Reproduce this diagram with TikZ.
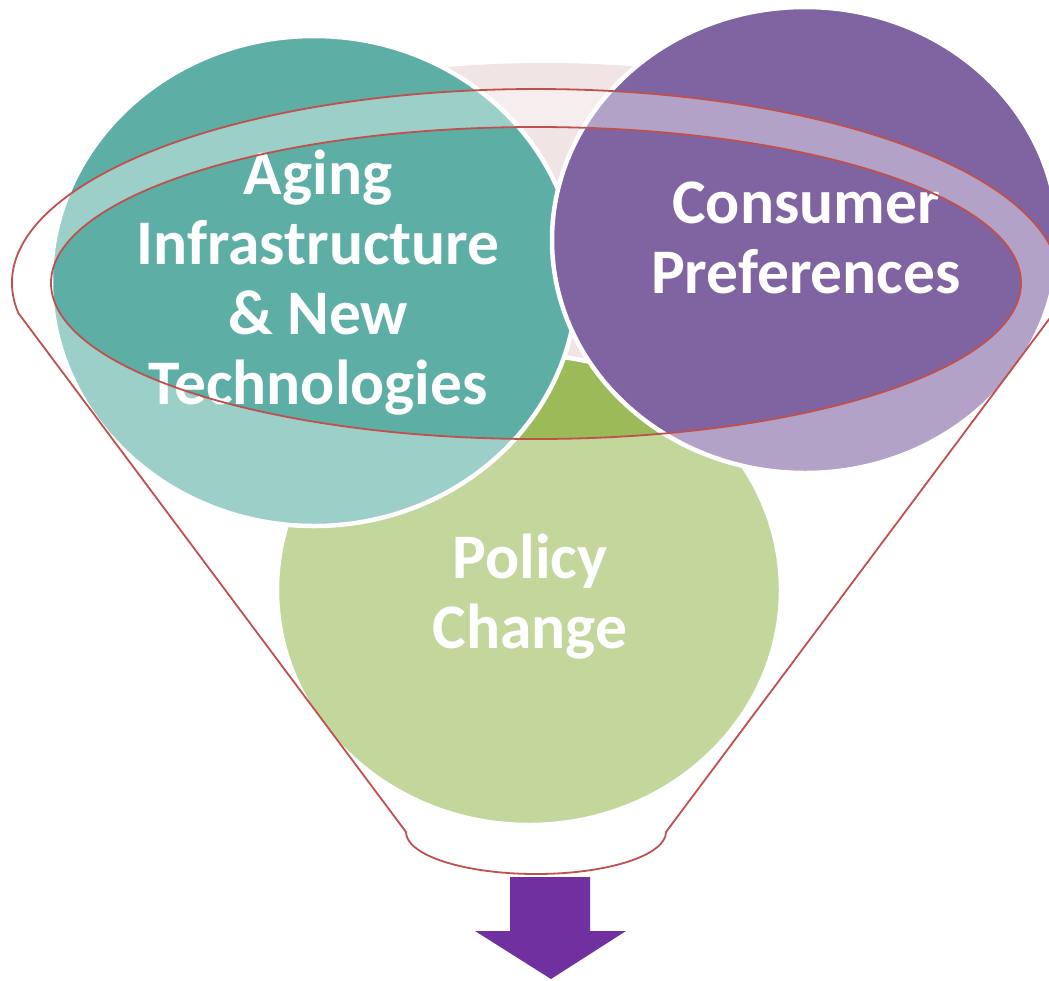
\documentclass[tikz,border=0pt]{standalone}
\usepackage{fontspec}
\setmainfont{Carlito}
\definecolor{pinkc}{HTML}{F0E4E4}
\definecolor{tealc}{HTML}{5DAFA5}
\definecolor{purplec}{HTML}{8064A2}
\definecolor{greenc}{HTML}{9BBB59}
\definecolor{redc}{HTML}{C0504D}
\definecolor{arrowc}{HTML}{7030A0}
\begin{document}
\begin{tikzpicture}[x=1pt,y=-1pt,
        bubble/.style={draw=white,line width=4.5pt},
        bubbletext/.style={text=white,font=\bfseries\fontsize{63.5}{70}\selectfont,align=center,inner sep=0pt}]
            \useasboundingbox (0,0) rectangle (1049,980);

            \coordinate (P) at (545,260);
            \coordinate (G) at (529,590);
            \coordinate (T) at (314,281);
            \coordinate (V) at (805,240);

            \coordinate (O) at (536,283);
            \coordinate (B) at (536,832);

            % circles
            \fill[pinkc] (P) ellipse [x radius=480, y radius=197];
            \filldraw[fill=greenc,bubble] (G) ellipse [x radius=252, y radius=235];
            \filldraw[fill=tealc,bubble] (T) ellipse [x radius=263, y radius=245];
            \filldraw[fill=purplec,bubble] (V) ellipse [x radius=253, y radius=233];

            \node[bubbletext] (aging) at (318,283) {Aging\\Infrastructure\\\& New\\Technologies};
            \node[bubbletext] (consumer) at (806,238) {Consumer\\Preferences};
            \node[bubbletext] (policy) at (530,597) {Policy\\Change};

            % funnel
            \filldraw[fill=white,fill opacity=0.4,draw=redc,line width=1.8pt,even odd rule]
                (O) ++(171.1:524 and 194) arc[start angle=171.1, end angle=368.9, x radius=524, y radius=194]
                -- (666,832) arc[start angle=0, end angle=180, x radius=130, y radius=42] -- cycle
                (O) ellipse [x radius=485, y radius=156];

            % arrow
            \fill[arrowc] (510,877) -- (590,877) -- (590,931) -- (626,931) -- (551,979)
                -- (475,931) -- (510,931) -- cycle;
        \end{tikzpicture}
\end{document}
